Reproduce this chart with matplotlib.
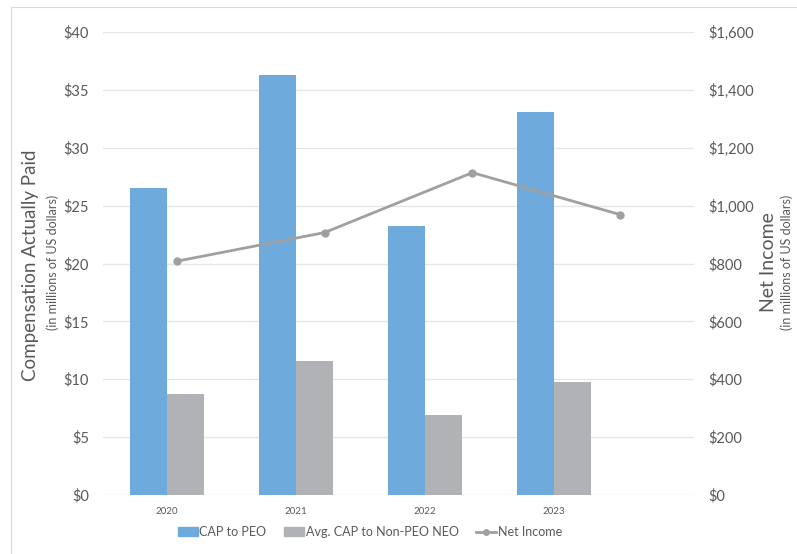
import matplotlib.pyplot as plt
from matplotlib.lines import Line2D
from matplotlib.patches import Patch, Rectangle
from matplotlib.ticker import FuncFormatter
import numpy as np

plt.rcParams['font.family'] = ['Lato', 'DejaVu Sans']

years = ['2020', '2021', '2022', '2023']
cap_peo = [26.5, 36.25, 23.25, 33.05]
cap_neo = [8.72, 11.6, 6.92, 9.75]
net_income = [808, 907, 1114, 969]

blue = '#6FAADC'
grey_bar = '#B1B2B5'
grey_line = '#A0A0A0'
txt = '#595959'
grid = '#E6E6E6'

fig = plt.figure(figsize=(7.97, 5.54), dpi=100)
fig.patches.append(Rectangle((10.5 / 797, -0.1), 1.2, 1 - 7.5 / 554 + 0.1,
                             transform=fig.transFigure, fill=False,
                             edgecolor='#D9D9D9', linewidth=0.8))

pos = [103 / 797, 1 - 495 / 554, 591 / 797, 463 / 554]
ax = fig.add_axes(pos)
x = np.arange(len(years))
w = 0.287
ax.bar(x - w / 2, cap_peo, w, color=blue, zorder=2)
ax.bar(x + w / 2, cap_neo, w, color=grey_bar, zorder=2)
ax.set_xlim(-0.496, 4.085)
ax.set_ylim(0, 40)
ax.set_yticks(range(0, 41, 5))
ax.yaxis.set_major_formatter(FuncFormatter(lambda v, p: f'${v:,.0f}'))
ax.set_xticks(x)
ax.set_xticklabels(years, fontsize=7, color=txt)
ax.tick_params(axis='x', length=0, pad=9)
ax.tick_params(axis='y', length=0, pad=10, labelsize=10.5, labelcolor=txt)
ax.grid(axis='y', color=grid, linewidth=1, zorder=0)
for s in ax.spines.values():
    s.set_visible(False)

# net income sits on its own category axis
ax2 = fig.add_axes(pos, frameon=False)
ax2.plot(np.arange(len(years)), net_income, color=grey_line, linewidth=2,
         marker='o', markersize=5, zorder=3)
ax2.set_xlim(-0.5, 3.5)
ax2.set_ylim(0, 1600)
ax2.set_yticks(range(0, 1601, 200))
ax2.yaxis.tick_right()
ax2.yaxis.set_major_formatter(FuncFormatter(lambda v, p: f'${v:,.0f}'))
ax2.tick_params(axis='y', length=0, pad=10, labelsize=10.5, labelcolor=txt)
ax2.set_xticks([])

fig.text(31 / 797, 1 - 265 / 554, 'Compensation Actually Paid', rotation=90,
         ha='center', va='center', fontsize=13.5, color=txt)
fig.text(53 / 797, 1 - 262 / 554, '(in millions of US dollars)', rotation=90,
         ha='center', va='center', fontsize=9, color=txt)
fig.text(769 / 797, 1 - 262 / 554, 'Net Income', rotation=90,
         ha='center', va='center', fontsize=14, color=txt)
fig.text(787 / 797, 1 - 262 / 554, '(in millions of US dollars)', rotation=90,
         ha='center', va='center', fontsize=9, color=txt)

handles = [Patch(color=blue), Patch(color=grey_bar),
           Line2D([], [], color=grey_line, linewidth=2, marker='o', markersize=4)]
fig.legend(handles, ['CAP to PEO', 'Avg. CAP to Non-PEO NEO', 'Net Income'],
           loc='center', bbox_to_anchor=(370 / 797, 1 - 532 / 554), ncol=3,
           frameon=False, fontsize=9, labelcolor=txt, handlelength=1.6,
           handleheight=0.65, handletextpad=0.15, columnspacing=1.4)

fig.savefig('out.png', dpi=100)
